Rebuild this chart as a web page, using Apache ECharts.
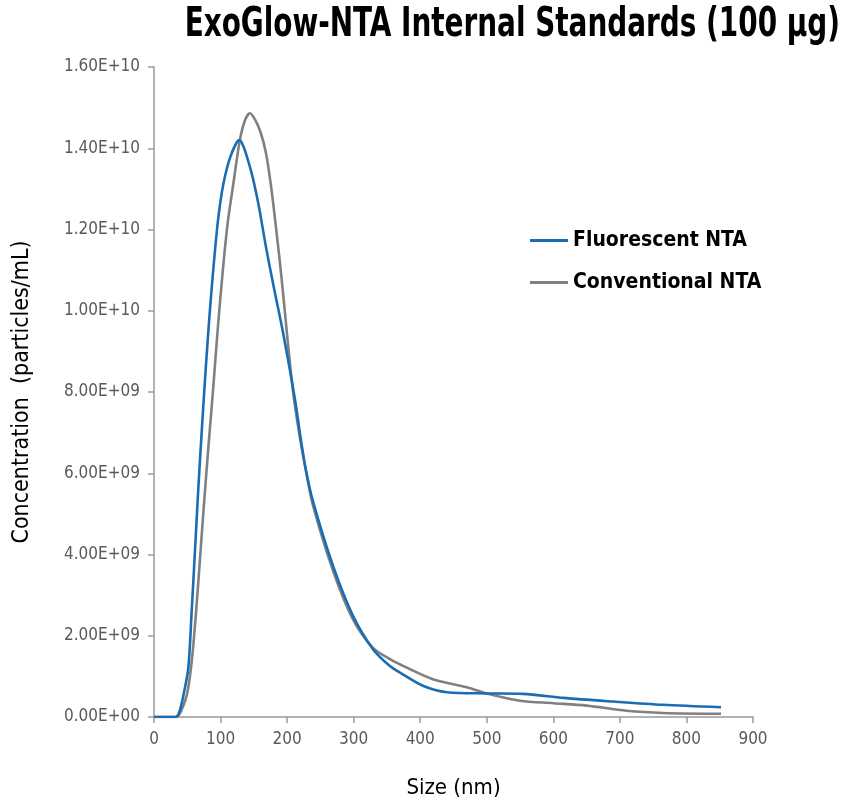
<!DOCTYPE html>
<html><head><meta charset="utf-8">
<script src="https://cdn.jsdelivr.net/npm/echarts@6/dist/echarts.min.js"></script>
<style>html,body{margin:0;padding:0;background:#fff}#c{width:849px;height:804px}</style>
</head><body><div id="c"></div>
<script>
const titleText = 'ExoGlow-NTA Internal Standards (100 µg)';
const xTitle = 'Size (nm)';
const yTitle = 'Concentration  (particles/mL)';
const seriesNames = ['Fluorescent NTA', 'Conventional NTA'];

const fluorSize = [0,20,32,38,44,51.5,56.6,61.6,66.5,71.6,76.6,83,89,96,104,115,128,144,156,169,181,194,212,220,228,239,269,299,329,354,369,404,440,500,554,615,690,765,852];
const fluorConc = [0,0,0,0.12e9,0.52e9,1.2e9,2.6e9,4.1e9,5.6e9,7.0e9,8.3e9,9.8e9,1.1e10,1.22e10,1.31e10,1.38e10,1.42e10,1.355e10,1.27e10,1.15e10,1.05e10,9.45e9,7.8e9,6.9e9,6.1e9,5.3e9,3.72e9,2.49e9,1.67e9,1.26e9,1.1e9,0.77e9,0.61e9,0.58e9,0.57e9,0.47e9,0.38e9,0.3e9,0.24e9];

const convSize = [0,34,40,49,54,59,66.5,74,81.5,89,96,104,111,119,129,137,144,152,160,168,176,184,192,200,209,219,229,239,269,299,329,354,379,419,470,500,550,600,650,710,765,852];
const convConc = [0,0,0.12e9,0.52e9,1.0e9,1.75e9,3.3e9,5.0e9,6.6e9,8.1e9,9.6e9,1.11e10,1.22e10,1.31e10,1.42e10,1.47e10,1.486e10,1.47e10,1.44e10,1.39e10,1.305e10,1.195e10,1.075e10,9.4e9,8.0e9,6.9e9,6.0e9,5.2e9,3.6e9,2.4e9,1.7e9,1.43e9,1.22e9,0.93e9,0.73e9,0.58e9,0.4e9,0.34e9,0.28e9,0.155e9,0.1e9,0.08e9];

const xTicks = {min: 0, max: 900, interval: 100};
const yTicks = {min: 0, max: 1.6e10, interval: 2e9};

function sci(v){
  if (v === 0) return '0.00E+00';
  const e = Math.floor(Math.log10(Math.abs(v)) + 1e-9);
  const m = v / Math.pow(10, e);
  return m.toFixed(2) + 'E+' + (e < 10 ? '0' + e : e);
}
function zip(a,b){ return a.map((x,i)=>[x,b[i]]); }

const FONT = '"DejaVu Sans Condensed", "Liberation Sans Narrow", sans-serif';
const chart = echarts.init(document.getElementById('c'), null, {renderer:'canvas'});
chart.setOption({
  animation: false,
  backgroundColor: '#fff',
  graphic: [{
    type: 'text', x: 840, y: 6, scaleX: 0.775, scaleY: 1.0,
    style: {
      text: titleText, textAlign: 'right', textVerticalAlign: 'top',
      fontFamily: FONT, fontWeight: 'bold', fontSize: 40, fill: '#000'
    }
  }],
  legend: {
    data: seriesNames, orient: 'vertical', left: 525, top: 225, itemGap: 21,
    itemWidth: 38, itemHeight: 3,
    icon: 'rect',
    textStyle: {fontFamily: FONT, fontWeight: 'bold', fontSize: 21, color: '#000'}
  },
  grid: {left: 154, right: 96, top: 67, bottom: 86, containLabel: false},
  xAxis: {
    type: 'value', min: xTicks.min, max: xTicks.max, interval: xTicks.interval,
    name: xTitle, nameLocation: 'middle', nameGap: 60,
    nameTextStyle: {fontFamily: FONT, fontSize: 22, color: '#000'},
    axisLine: {show: true, lineStyle: {color: '#9a9a9a', width: 1.5}},
    axisTick: {show: true, inside: false, length: 6, lineStyle: {color: '#9a9a9a', width: 1.5}},
    axisLabel: {fontFamily: FONT, fontSize: 17, color: '#5a5a5a', margin: 14},
    splitLine: {show: false}
  },
  yAxis: {
    type: 'value', min: yTicks.min, max: yTicks.max, interval: yTicks.interval,
    name: yTitle, nameLocation: 'middle', nameGap: 120, nameRotate: 90,
    nameTextStyle: {fontFamily: FONT, fontSize: 23, color: '#000'},
    axisLine: {show: true, lineStyle: {color: '#9a9a9a', width: 1.5}},
    axisTick: {show: true, inside: false, length: 6, lineStyle: {color: '#9a9a9a', width: 1.5}},
    axisLabel: {fontFamily: FONT, fontSize: 17, color: '#5a5a5a', margin: 14, formatter: sci},
    splitLine: {show: false}
  },
  series: [
    {
      name: seriesNames[1], type: 'line', data: zip(convSize, convConc),
      smooth: 0.3, showSymbol: false, symbol: 'none',
      lineStyle: {color: '#808080', width: 2.6}, itemStyle: {color: '#808080'}
    },
    {
      name: seriesNames[0], type: 'line', data: zip(fluorSize, fluorConc),
      smooth: 0.3, showSymbol: false, symbol: 'none',
      lineStyle: {color: '#1a6db3', width: 2.6}, itemStyle: {color: '#1a6db3'}
    }
  ]
});
</script></body></html>
